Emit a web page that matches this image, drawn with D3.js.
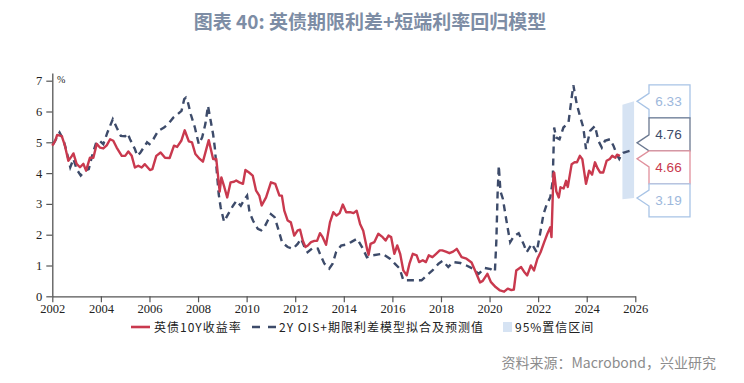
<!DOCTYPE html>
<html>
<head>
<meta charset="utf-8">
<script src="https://cdn.jsdelivr.net/npm/d3@7"></script>
<style>
  body { margin: 0; background: #fff; }
  svg { display: block; }
</style>
</head>
<body>
<svg id="chart" width="744" height="383"></svg>
<script>
// UK 10Y gilt yield (%), [year, value]
var gilt10y = [
  [2002.00,4.89],[2002.12,5.05],[2002.20,5.24],[2002.39,5.20],[2002.52,4.89],[2002.66,4.40],[2002.80,4.55],[2002.87,4.64],
  [2003.00,4.30],[2003.14,4.19],[2003.28,4.30],[2003.39,4.08],[2003.55,4.50],[2003.69,4.50],[2003.83,4.95],[2003.96,4.83],
  [2004.10,4.80],[2004.24,4.90],[2004.38,5.10],[2004.51,5.05],[2004.65,4.83],[2004.86,4.56],[2005.00,4.56],[2005.13,4.70],
  [2005.27,4.56],[2005.40,4.18],[2005.54,4.24],[2005.68,4.18],[2005.81,4.29],[2006.02,4.10],[2006.12,4.13],[2006.28,4.56],
  [2006.46,4.67],[2006.64,4.50],[2006.83,4.49],[2007.01,4.89],[2007.14,4.85],[2007.31,5.05],[2007.45,5.39],[2007.62,5.03],
  [2007.75,5.00],[2007.89,4.62],[2008.07,4.46],[2008.20,4.37],[2008.34,4.78],[2008.44,5.07],[2008.62,4.46],[2008.75,4.46],
  [2008.89,3.40],[2008.96,3.86],[2009.08,3.55],[2009.20,3.21],[2009.34,3.70],[2009.48,3.72],[2009.57,3.76],[2009.70,3.70],
  [2009.85,3.65],[2009.95,4.10],[2010.10,4.02],[2010.25,3.92],[2010.39,3.43],[2010.52,3.27],[2010.62,2.95],[2010.80,3.21],
  [2011.00,3.70],[2011.18,3.65],[2011.35,3.27],[2011.45,3.27],[2011.55,2.78],[2011.69,2.46],[2011.82,2.40],[2011.96,1.97],
  [2012.10,2.14],[2012.20,2.16],[2012.31,1.81],[2012.42,1.60],[2012.52,1.65],[2012.65,1.76],[2012.79,1.80],[2012.90,1.80],
  [2013.02,2.05],[2013.13,1.92],[2013.27,1.67],[2013.43,2.40],[2013.57,2.73],[2013.70,2.62],[2013.83,2.70],[2013.96,2.98],
  [2014.10,2.73],[2014.26,2.73],[2014.40,2.70],[2014.53,2.78],[2014.67,2.35],[2014.80,2.13],[2014.97,1.49],[2015.02,1.35],
  [2015.10,1.70],[2015.26,1.76],[2015.42,2.03],[2015.60,1.92],[2015.72,1.81],[2015.84,1.97],[2015.95,1.92],[2016.08,1.38],
  [2016.20,1.65],[2016.32,1.38],[2016.45,0.84],[2016.59,0.68],[2016.70,1.05],[2016.84,1.38],[2017.00,1.33],[2017.10,1.11],
  [2017.25,1.17],[2017.38,1.11],[2017.50,1.33],[2017.65,1.27],[2017.80,1.38],[2017.95,1.49],[2018.05,1.49],[2018.20,1.45],
  [2018.35,1.40],[2018.50,1.45],[2018.65,1.54],[2018.85,1.27],[2019.05,1.22],[2019.26,1.10],[2019.43,0.79],[2019.61,0.45],
  [2019.72,0.50],[2019.91,0.73],[2020.05,0.47],[2020.25,0.30],[2020.43,0.19],[2020.60,0.15],[2020.75,0.25],[2020.90,0.20],
  [2021.00,0.22],[2021.10,0.84],[2021.30,0.95],[2021.42,0.80],[2021.55,0.68],[2021.70,1.00],[2021.83,0.84],[2021.97,1.22],
  [2022.10,1.43],[2022.25,1.76],[2022.38,2.03],[2022.50,2.24],[2022.55,1.92],[2022.63,3.97],[2022.66,4.02],[2022.75,3.40],
  [2022.85,3.21],[2022.92,3.54],[2023.05,3.50],[2023.15,3.75],[2023.22,3.55],[2023.38,4.29],[2023.50,4.35],[2023.60,4.35],
  [2023.72,4.56],[2023.82,4.45],[2023.97,3.65],[2024.10,4.08],[2024.22,3.95],[2024.34,4.35],[2024.45,4.15],[2024.55,4.02],
  [2024.68,4.02],[2024.82,4.40],[2024.95,4.46],[2025.05,4.56],[2025.18,4.50],[2025.25,4.60],[2025.37,4.56]
];

// 2Y OIS + term spread regression: fitted values
var modelFit = [
  [2002.04,4.94],[2002.30,5.32],[2002.45,5.10],[2002.60,4.67],[2002.74,4.19],[2002.87,4.46],[2003.00,4.13],[2003.17,3.92],
  [2003.35,4.08],[2003.50,4.13],[2003.64,4.56],[2003.81,5.00],[2003.95,5.05],[2004.10,4.94],[2004.27,5.32],[2004.49,5.75],
  [2004.65,5.48],[2004.82,5.21],[2005.00,5.20],[2005.10,5.29],[2005.20,5.10],[2005.40,4.78],[2005.50,4.56],[2005.63,4.67],
  [2005.90,5.00],[2006.00,4.94],[2006.16,5.10],[2006.36,5.37],[2006.60,5.48],[2006.77,5.59],[2006.98,5.80],[2007.16,5.91],
  [2007.32,6.02],[2007.43,6.40],[2007.50,6.45],[2007.57,6.34],[2007.70,5.91],[2007.87,5.48],[2008.03,4.94],[2008.17,5.16],
  [2008.30,5.59],[2008.41,6.18],[2008.52,5.70],[2008.62,5.26],[2008.69,4.83],[2008.78,3.97],[2008.85,3.32],[2008.93,2.89],
  [2009.07,2.42],[2009.24,2.67],[2009.44,2.94],[2009.58,3.10],[2009.76,2.94],[2009.92,3.16],[2010.02,3.27],[2010.12,2.73],
  [2010.26,2.46],[2010.46,2.19],[2010.60,2.14],[2010.73,2.24],[2010.87,2.46],[2011.00,2.67],[2011.15,2.57],[2011.28,2.24],
  [2011.46,1.75],[2011.69,1.60],[2011.90,1.54],[2012.10,1.70],[2012.24,1.87],[2012.38,1.60],[2012.51,1.43],[2012.72,1.57],
  [2012.93,1.55],[2013.06,1.30],[2013.20,1.06],[2013.40,0.90],[2013.54,1.06],[2013.68,1.43],[2013.89,1.65],[2014.10,1.68],
  [2014.30,1.76],[2014.55,1.87],[2014.75,1.60],[2014.95,1.27],[2015.20,1.33],[2015.60,1.38],[2015.90,1.22],[2016.10,1.06],
  [2016.30,0.90],[2016.45,0.52],[2016.70,0.52],[2016.90,0.52],[2017.20,0.52],[2017.45,0.70],[2017.65,0.84],[2017.90,1.06],
  [2018.07,1.15],[2018.30,0.95],[2018.50,1.11],[2018.80,1.08],[2019.05,1.00],[2019.30,0.90],[2019.55,0.73],[2019.80,0.92],
  [2020.05,0.88],[2020.22,0.80],[2020.28,1.80],[2020.33,3.30],[2020.38,4.24],[2020.45,3.40],[2020.55,3.16],[2020.65,2.67],
  [2020.75,2.20],[2020.85,1.76],[2021.00,1.95],[2021.20,2.05],[2021.40,1.70],[2021.53,1.43],[2021.74,1.70],[2021.94,1.43],
  [2022.08,2.03],[2022.22,2.67],[2022.36,3.00],[2022.50,3.21],[2022.60,3.75],[2022.66,5.48],[2022.74,5.16],[2022.88,5.10],
  [2023.04,5.48],[2023.25,5.64],[2023.38,6.45],[2023.45,6.85],[2023.59,6.24],[2023.72,5.86],[2023.86,5.48],[2023.97,4.78],
  [2024.14,5.37],[2024.34,5.53],[2024.48,5.05],[2024.62,4.83],[2024.75,5.05],[2024.96,5.10],[2025.10,4.89],[2025.23,4.62],
  [2025.34,4.46],[2025.44,4.62]
];
// model forecast
var modelForecast = [[2025.50,4.66],[2025.95,4.76]];

// 95% confidence interval
var ciDates = [2025.47, 2025.95];
var ciUpper = [6.22, 6.33];
var ciLower = [3.15, 3.19];

// end-of-series value labels
var endLabels = [
  {value: 6.33, kind: "ci"},
  {value: 4.76, kind: "model"},
  {value: 4.66, kind: "yield"},
  {value: 3.19, kind: "ci"}
];

var xTicks = d3.range(2002, 2027, 2);
var yTicks = [0, 1, 2, 3, 4, 5, 6, 7];

var legendNames = ["英债10Y收益率", "2Y OIS+期限利差模型拟合及预测值", "95%置信区间"];

var RED = "#c9394e", NAVY = "#3d4b6a", BAND = "#d6e3f3";

var svg = d3.select("#chart");

var x = d3.scaleLinear().domain([2002, 2026]).range([52.3, 635.3]);
var y = d3.scaleLinear().domain([0, 7.25]).range([296.3, 296.3 - 7.25 * 30.8]);

// title
svg.append("text")
  .attr("x", 370).attr("y", 29)
  .attr("text-anchor", "middle")
  .style("font-family", "'Noto Sans CJK SC', sans-serif")
  .style("font-weight", "bold")
  .style("font-size", "19px")
  .style("fill", "#7d8da5")
  .text("图表 40: 英债期限利差+短端利率回归模型");

// confidence band
var band = ciDates.map(function(d, i) { return {t: d, hi: ciUpper[i], lo: ciLower[i]}; });
svg.append("path")
  .datum(band)
  .attr("fill", BAND)
  .attr("d", d3.area().x(function(d) { return x(d.t); })
    .y0(function(d) { return y(d.lo); })
    .y1(function(d) { return y(d.hi); }));

// axes
var yAxis = d3.axisLeft(y).tickValues(yTicks).tickSize(6).tickSizeOuter(0).tickPadding(4)
  .tickFormat(d3.format("d"));
var gy = svg.append("g").attr("transform", "translate(52.3,0)").call(yAxis);

var xAxis = d3.axisBottom(x).tickValues(xTicks).tickSize(6).tickSizeOuter(0).tickPadding(2)
  .tickFormat(d3.format("d"));
var gx = svg.append("g").attr("transform", "translate(0,296.3)").call(xAxis);

[gy, gx].forEach(function(g) {
  g.selectAll("path.domain").attr("stroke", "#555").attr("stroke-width", 1.3);
  g.selectAll(".tick line").attr("stroke", "#555").attr("stroke-width", 1.2);
  g.selectAll("text")
    .style("font-family", "'Liberation Serif', 'Times New Roman', serif")
    .style("font-size", "12.5px")
    .attr("fill", "#222");
});

svg.append("text")
  .attr("x", 57).attr("y", 83)
  .style("font-family", "'Liberation Serif', serif")
  .style("font-size", "10px")
  .attr("fill", "#222")
  .text("%");

var line = d3.line()
  .x(function(d) { return x(d[0]); })
  .y(function(d) { return y(d[1]); });

// model fit + forecast (dashed)
svg.append("path")
  .attr("d", line(modelFit.concat(modelForecast)))
  .attr("fill", "none")
  .attr("stroke", NAVY)
  .attr("stroke-width", 2.4)
  .attr("stroke-dasharray", "7,5");

// UK 10Y
svg.append("path")
  .attr("d", line(gilt10y))
  .attr("fill", "none")
  .attr("stroke", RED)
  .attr("stroke-width", 2.4)
  .attr("stroke-linejoin", "round");

// value labels at the right
var boxStyle = {
  ci:    {stroke: "#a8c4e6", text: "#9db8dc"},
  model: {stroke: "#6a7890", text: NAVY},
  yield: {stroke: "#e0909c", text: RED}
};
var boxLeft = 649, boxW = 41, boxH = 33, tipX = 637;
var firstTop = y(endLabels[0].value) - 16.5;

endLabels.forEach(function(lab, i) {
  var top = firstTop + i * boxH, bottom = top + boxH;
  var vy = y(lab.value);
  var a1 = Math.max(top, Math.min(bottom - 16, vy - 8));
  var a2 = a1 + 16;
  var tipY = (a1 + a2) / 2;
  var st = boxStyle[lab.kind];
  var p = "M" + boxLeft + "," + top + "H" + (boxLeft + boxW) + "V" + bottom + "H" + boxLeft +
          "V" + a2 + "L" + tipX + "," + tipY + "L" + boxLeft + "," + a1 + "Z";
  svg.append("path").attr("d", p)
    .attr("fill", "#fff")
    .attr("stroke", st.stroke)
    .attr("stroke-width", 1.3);
  svg.append("text")
    .attr("x", boxLeft + boxW / 2 - 1).attr("y", top + boxH / 2 + 5)
    .attr("text-anchor", "middle")
    .style("font-family", "'Liberation Sans', Arial, sans-serif")
    .style("font-size", "13.5px")
    .attr("fill", st.text)
    .text(d3.format(".2f")(lab.value));
});

// legend
var lg = svg.append("g").attr("transform", "translate(0,327)");
var legendFont = "'Noto Sans CJK SC', sans-serif";
function legendText(xPos, label) {
  lg.append("text").attr("x", xPos).attr("y", 4.5)
    .style("font-family", legendFont).style("font-size", "12px")
    .style("letter-spacing", "1px").attr("fill", "#222")
    .text(label);
}
lg.append("line").attr("x1", 131).attr("x2", 150).attr("y1", 0).attr("y2", 0)
  .attr("stroke", RED).attr("stroke-width", 2.6);
legendText(154, legendNames[0]);
lg.append("line").attr("x1", 252).attr("x2", 276).attr("y1", 0).attr("y2", 0)
  .attr("stroke", NAVY).attr("stroke-width", 2.6).attr("stroke-dasharray", "8,8");
legendText(279, legendNames[1]);
lg.append("rect").attr("x", 503).attr("y", -5).attr("width", 9).attr("height", 10)
  .attr("fill", BAND);
legendText(515, legendNames[2]);

// source
svg.append("text")
  .attr("x", 716).attr("y", 368)
  .attr("text-anchor", "end")
  .style("font-family", "'Noto Sans CJK SC', sans-serif")
  .style("font-size", "14px")
  .attr("fill", "#8c8c8c")
  .text("资料来源：Macrobond，兴业研究");
</script>
</body>
</html>
